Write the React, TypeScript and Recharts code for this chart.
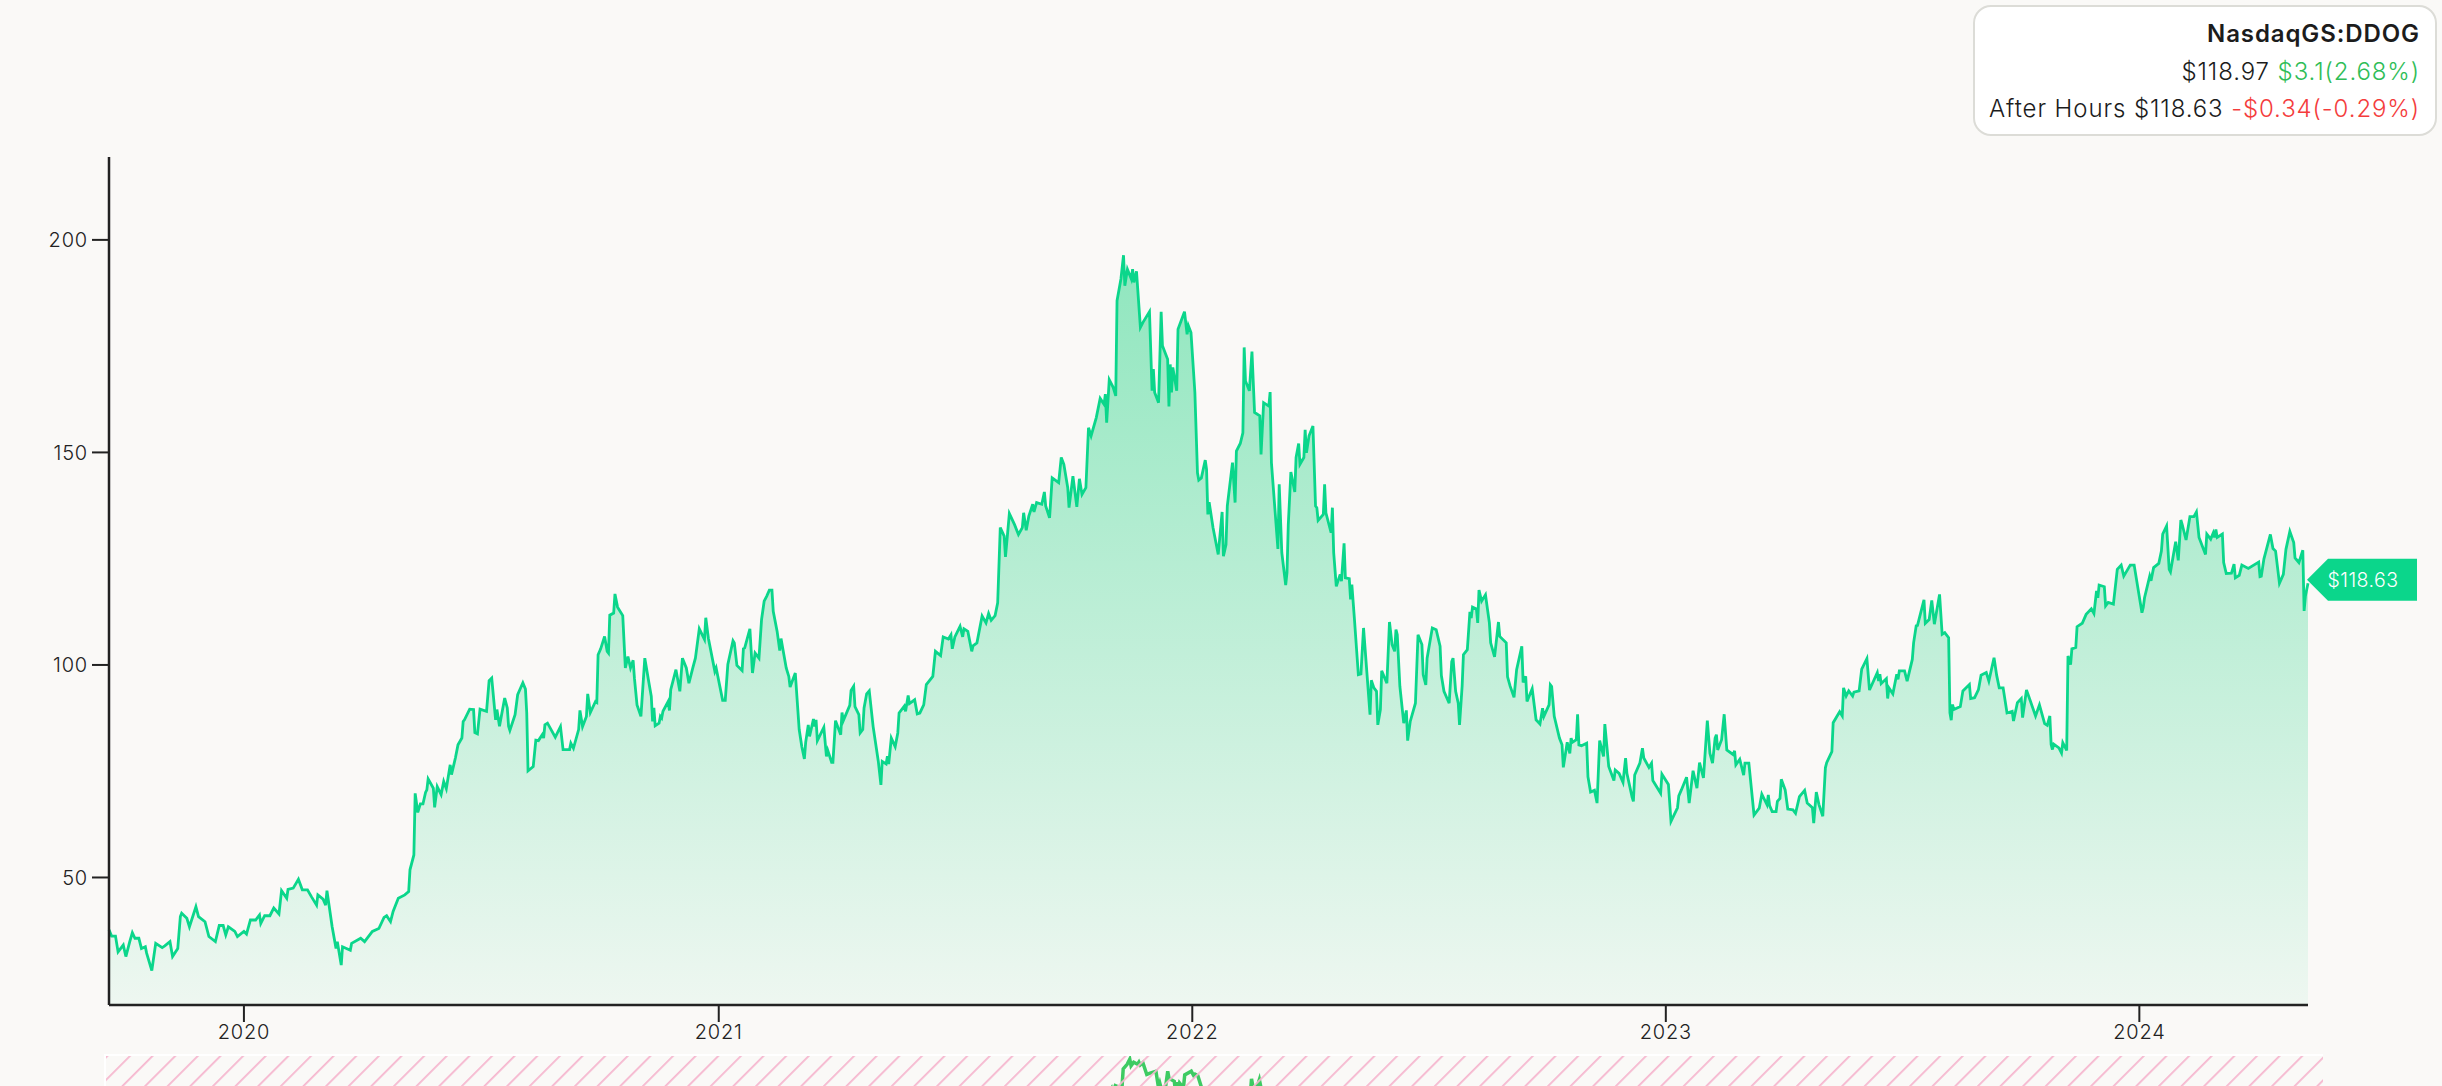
import { Area, AreaChart, Line, LineChart, ReferenceDot, XAxis, YAxis } from "recharts";

const WIDTH = 2442;
const HEIGHT = 1086;
const DAY_MS = 86400000;
const LISTING_DATE = Date.UTC(2019, 8, 19);
const LAST_DAY = 1695;

// days since listing and closing price
const days2019 = [
  0, 2, 5, 7, 11, 13, 16, 18, 20, 23,
  25, 28, 29, 33, 36, 41, 43, 47, 49, 53,
  55, 56, 60, 62, 67, 69, 74, 77, 82, 85,
  88, 90, 92, 97, 99,
];
const closes2019 = [
  37.7, 36.2, 36.2, 32.5, 34.1, 31.4, 34.9, 37.0, 35.7, 35.7,
  33.3, 33.7, 32.2, 28.1, 34.5, 33.5, 33.9, 34.9, 31.4, 33.3,
  40.8, 41.6, 40.4, 38.4, 43.1, 40.8, 39.6, 36.1, 34.9, 38.7,
  38.7, 36.5, 38.4, 37.3, 36.1,
];

const days2020 = [
  104, 106, 109, 113, 116, 117, 120, 124, 127, 131,
  133, 137, 138, 142, 146, 149, 153, 156, 160, 161,
  165, 167, 168, 172, 175, 176, 179, 180, 183, 186,
  187, 194, 197, 203, 208, 212, 214, 217, 219, 223,
  228, 231, 232, 235, 236, 238, 240, 242, 244, 245,
  246, 250, 251, 253, 256, 258, 260, 263, 264, 267,
  269, 272, 273, 274, 278, 281, 282, 284, 286, 291,
  293, 295, 298, 299, 301, 305, 307, 308, 309, 313,
  315, 319, 321, 322, 323, 327, 329, 331, 334, 335,
  336, 338, 344, 348, 350, 355, 356, 358, 362, 363,
  365, 368, 369, 371, 375, 376, 377, 379, 382, 384,
  385, 386, 389, 390, 392, 396, 398, 400, 402, 404,
  405, 407, 410, 413, 416, 418, 419, 420, 421, 424,
  425, 426, 427, 431, 432, 433, 437, 440, 442, 445,
  447, 450, 452, 455, 459, 460, 462, 467, 468,
];
const closes2020 = [
  37.3, 36.7, 40.0, 40.0, 41.2, 39.2, 41.0, 41.0, 42.8, 41.4,
  46.9, 45.1, 47.2, 47.5, 49.6, 47.1, 47.1, 45.5, 43.5, 45.9,
  44.9, 43.5, 46.9, 38.4, 33.3, 34.9, 29.4, 33.7, 33.3, 32.9,
  34.5, 35.7, 34.9, 37.3, 38.0, 40.6, 41.0, 39.6, 42.0, 45.1,
  45.9, 46.7, 51.8, 55.3, 69.8, 65.3, 67.3, 67.3, 70.0, 70.6,
  73.2, 71.0, 66.5, 71.4, 69.5, 72.6, 70.9, 76.5, 74.2, 78.1,
  81.2, 82.8, 86.7, 87.1, 89.6, 89.5, 84.1, 83.8, 89.6, 89.1,
  96.3, 96.9, 87.1, 89.5, 85.6, 92.2, 89.9, 85.6, 84.6, 88.3,
  93.0, 95.8, 94.3, 88.7, 75.1, 76.1, 82.3, 82.2, 83.6, 82.8,
  85.9, 86.3, 83.0, 85.5, 80.1, 80.1, 81.6, 80.4, 84.8, 89.3,
  85.5, 87.9, 93.2, 88.8, 91.4, 91.2, 102.4, 103.8, 106.7, 103.2,
  102.8, 111.7, 112.2, 116.7, 113.6, 111.6, 99.3, 102.0, 99.3, 101.1,
  96.9, 90.6, 87.9, 101.6, 96.1, 92.6, 86.7, 89.9, 85.7, 86.3,
  87.9, 87.5, 89.1, 91.4, 89.3, 94.2, 98.9, 93.8, 101.6, 99.3,
  95.7, 99.3, 101.6, 108.5, 106.0, 111.1, 106.3, 98.5, 99.3,
];

const days2021 = [
  473, 475, 477, 481, 482, 484, 488, 489, 490, 494,
  496, 498, 501, 503, 505, 507, 509, 511, 512, 515,
  517, 518, 522, 524, 525, 529, 532, 534, 536, 537,
  539, 540, 543, 544, 545, 546, 551, 553, 554, 557,
  558, 560, 564, 565, 566, 571, 572, 574, 575, 578,
  579, 581, 582, 584, 586, 589, 593, 595, 596, 599,
  600, 601, 603, 606, 608, 609, 613, 614, 616, 617,
  621, 623, 625, 628, 630, 635, 637, 641, 643, 647,
  649, 650, 652, 656, 658, 659, 662, 665, 666, 669,
  673, 676, 678, 680, 683, 685, 687, 690, 691, 694,
  698, 701, 704, 705, 707, 709, 712, 713, 715, 719,
  721, 722, 725, 727, 732, 734, 736, 739, 740, 743,
  746, 748, 750, 753, 755, 757, 761, 764, 767, 768,
  769, 771, 774, 776, 777, 780, 782, 783, 785, 788,
  789, 790, 792, 795, 797, 802, 804, 805, 806, 809,
  811, 812, 816, 817, 818, 819, 820, 823, 824, 829,
  831, 832, 834,
];
const closes2021 = [
  91.7, 91.7, 100.1, 105.7, 105.2, 99.9, 98.7, 103.8, 104.0, 108.5,
  98.1, 102.8, 101.6, 110.7, 115.0, 116.2, 117.6, 117.6, 112.6, 107.9,
  103.4, 106.2, 99.3, 97.3, 94.8, 98.1, 84.8, 80.8, 77.9, 81.8,
  85.9, 83.2, 87.3, 85.5, 87.1, 82.2, 85.3, 78.5, 79.9, 77.1,
  77.1, 86.9, 83.6, 88.8, 86.9, 90.5, 94.0, 95.0, 90.2, 88.3,
  84.0, 84.8, 89.9, 93.2, 93.9, 85.5, 77.3, 71.8, 77.3, 76.7,
  78.5, 76.7, 82.8, 80.8, 84.0, 88.7, 90.3, 89.1, 92.8, 90.9,
  91.8, 88.5, 88.7, 90.6, 95.4, 97.3, 103.2, 102.2, 106.6, 106.1,
  107.1, 103.8, 106.6, 109.1, 106.6, 108.5, 107.9, 103.2, 104.5, 105.2,
  111.5, 109.9, 112.1, 110.5, 111.6, 114.6, 132.3, 130.3, 125.4, 135.6,
  133.0, 130.7, 132.3, 135.8, 131.7, 135.0, 137.8, 136.0, 138.2, 137.8,
  140.7, 137.4, 134.6, 144.0, 142.9, 148.8, 147.2, 141.7, 137.0, 144.4,
  137.2, 143.8, 140.1, 141.7, 155.8, 153.9, 158.2, 162.7, 161.3, 163.7,
  157.0, 167.1, 165.3, 163.3, 185.7, 190.8, 196.4, 189.2, 193.1, 190.8,
  193.1, 190.0, 192.6, 179.4, 180.6, 183.1, 164.5, 169.6, 164.1, 161.7,
  183.1, 175.1, 171.9, 160.8, 170.7, 164.1, 170.0, 164.5, 179.0, 183.1,
  177.8, 179.8, 178.2,
];

const days2022 = [
  837, 839, 840, 842, 845, 846, 847, 848, 851, 855,
  858, 859, 861, 862, 866, 868, 869, 872, 874, 875,
  876, 879, 881, 883, 887, 888, 890, 894, 895, 896,
  901, 902, 904, 907, 908, 909, 911, 914, 915, 917,
  918, 921, 922, 923, 925, 928, 930, 931, 932, 936,
  937, 938, 942, 943, 944, 946, 949, 950, 952, 953,
  956, 957, 958, 960, 963, 965, 967, 970, 972, 973,
  975, 977, 978, 980, 981, 985, 987, 989, 991, 992,
  993, 995, 998, 1000, 1001, 1003, 1007, 1009, 1012, 1013,
  1015, 1016, 1020, 1023, 1026, 1027, 1029, 1033, 1035, 1036,
  1038, 1040, 1041, 1043, 1044, 1047, 1049, 1050, 1051, 1054,
  1055, 1056, 1058, 1061, 1064, 1065, 1068, 1071, 1072, 1077,
  1078, 1080, 1083, 1085, 1089, 1090, 1092, 1093, 1097, 1100,
  1103, 1105, 1106, 1110, 1111, 1112, 1114, 1118, 1120, 1121,
  1124, 1126, 1127, 1128, 1131, 1132, 1133, 1135, 1139, 1140,
  1142, 1145, 1147, 1149, 1152, 1153, 1156, 1160, 1161, 1164,
  1167, 1169, 1170, 1174, 1175, 1176, 1180, 1182, 1183, 1187,
  1189, 1190, 1196, 1197,
];
const closes2022 = [
  164.1, 145.2, 143.5, 144.0, 148.2, 146.0, 135.4, 138.3, 132.3, 126.0,
  136.0, 125.6, 128.3, 137.4, 147.6, 138.2, 150.3, 152.1, 154.6, 174.7,
  166.8, 164.5, 173.7, 159.4, 158.6, 149.5, 161.7, 160.9, 164.2, 147.6,
  127.3, 142.5, 126.4, 118.8, 121.7, 133.0, 145.4, 140.7, 148.8, 152.1,
  147.2, 148.8, 155.3, 149.9, 153.9, 156.2, 137.4, 137.0, 134.0, 135.4,
  142.5, 135.8, 131.1, 137.0, 126.4, 118.5, 121.3, 119.7, 128.6, 120.5,
  120.3, 115.4, 118.9, 110.7, 97.7, 97.9, 108.7, 96.5, 88.3, 96.4,
  94.6, 93.8, 85.9, 89.5, 98.6, 95.7, 110.1, 104.8, 103.2, 108.3,
  107.1, 95.0, 86.3, 89.3, 82.2, 86.7, 91.0, 107.1, 104.8, 97.7,
  95.3, 101.6, 108.7, 108.3, 104.4, 97.5, 93.8, 91.0, 100.8, 101.6,
  93.8, 91.0, 85.9, 95.0, 102.4, 103.6, 112.5, 111.0, 113.6, 113.2,
  109.9, 117.6, 115.0, 116.5, 109.9, 105.2, 101.9, 110.1, 106.7, 105.2,
  97.2, 95.0, 92.4, 98.9, 104.4, 95.9, 97.3, 91.4, 94.4, 87.1,
  86.1, 89.8, 87.9, 90.6, 95.3, 94.9, 87.9, 82.8, 81.2, 75.9,
  81.8, 79.2, 82.8, 81.8, 82.4, 88.4, 81.2, 81.0, 81.6, 73.7,
  70.1, 70.5, 67.5, 82.2, 78.5, 86.1, 76.1, 72.8, 75.3, 74.5,
  72.4, 78.1, 74.5, 68.9, 67.9, 74.1, 76.9, 80.4, 78.1, 75.9,
  76.9, 72.8, 69.8, 74.3,
];

const days2023 = [
  1202, 1204, 1209, 1210, 1212, 1216, 1218, 1221, 1224, 1226,
  1229, 1232, 1234, 1236, 1238, 1239, 1240, 1243, 1245, 1247,
  1252, 1253, 1254, 1257, 1260, 1261, 1264, 1268, 1272, 1274,
  1278, 1279, 1280, 1282, 1285, 1286, 1288, 1289, 1292, 1294,
  1298, 1300, 1303, 1307, 1309, 1313, 1314, 1316, 1318, 1321,
  1323, 1324, 1328, 1329, 1334, 1336, 1337, 1339, 1341, 1344,
  1345, 1349, 1351, 1355, 1357, 1363, 1364, 1365, 1366, 1370,
  1371, 1372, 1375, 1378, 1379, 1380, 1384, 1386, 1390, 1391,
  1393, 1394, 1399, 1400, 1403, 1405, 1407, 1411, 1413, 1415,
  1418, 1419, 1420, 1421, 1422, 1427, 1429, 1434, 1435, 1438,
  1441, 1443, 1447, 1449, 1453, 1455, 1457, 1460, 1463, 1467,
  1468, 1471, 1474, 1475, 1478, 1481, 1485, 1488, 1492, 1494,
  1496, 1497, 1498, 1499, 1503, 1505, 1506, 1509, 1510, 1512,
  1513, 1516, 1517, 1521, 1524, 1528, 1530, 1532, 1533, 1534,
  1538, 1539, 1541, 1545, 1548, 1551, 1553, 1558, 1561,
];
const closes2023 = [
  71.9, 63.2, 66.4, 69.2, 70.6, 73.6, 67.5, 75.1, 71.0, 77.0,
  73.4, 86.9, 79.2, 76.9, 82.8, 83.6, 80.0, 82.4, 88.4, 80.0,
  78.9, 79.8, 76.5, 77.8, 74.1, 76.9, 76.9, 64.7, 66.3, 69.6,
  67.1, 69.4, 66.9, 65.5, 65.5, 67.9, 68.6, 73.1, 70.6, 66.1,
  65.9, 65.1, 69.0, 70.5, 67.5, 66.4, 62.8, 70.1, 67.2, 64.4,
  75.8, 77.0, 79.6, 86.4, 89.0, 88.0, 94.6, 92.7, 93.9, 92.7,
  93.6, 93.9, 99.0, 101.5, 94.1, 98.2, 96.2, 97.8, 95.6, 96.8,
  92.1, 94.6, 93.2, 97.8, 96.6, 98.6, 98.6, 96.2, 101.3, 105.2,
  109.2, 109.3, 115.3, 109.8, 110.7, 115.2, 109.6, 116.6, 107.2, 107.6,
  106.4, 88.7, 87.0, 90.7, 89.5, 90.2, 93.9, 95.4, 92.1, 92.3,
  94.2, 97.6, 98.2, 96.2, 101.7, 97.6, 94.6, 94.6, 88.7, 89.1,
  86.8, 91.1, 92.1, 87.6, 94.1, 91.5, 88.0, 90.6, 86.2, 85.8,
  88.0, 81.3, 80.1, 81.4, 80.5, 79.3, 81.7, 79.9, 102.1, 100.1,
  103.8, 104.1, 109.0, 109.8, 111.9, 113.2, 112.1, 117.4, 115.8, 118.8,
  118.4, 113.9, 114.7, 114.3, 122.5, 123.5, 120.9, 123.5, 123.5,
];

const days2024 = [
  1567, 1568, 1569, 1573, 1574, 1576, 1580, 1582, 1583, 1586,
  1588, 1589, 1593, 1595, 1597, 1598, 1601, 1604, 1607, 1609,
  1611, 1616, 1617, 1620, 1622, 1623, 1624, 1625, 1629, 1630,
  1632, 1636, 1638, 1639, 1642, 1644, 1649, 1657, 1658, 1659,
  1661, 1666, 1668, 1670, 1673, 1676, 1678, 1681, 1684, 1685,
  1688, 1691, 1692, 1693, 1695,
];
const closes2024 = [
  112.3, 113.5, 115.8, 120.9, 119.8, 122.9, 123.9, 126.8, 130.8, 132.7,
  122.5, 121.9, 129.0, 124.6, 134.1, 133.1, 129.4, 134.9, 134.9, 136.0,
  130.0, 126.0, 130.8, 129.6, 131.1, 130.0, 131.9, 130.0, 130.8, 124.1,
  121.5, 121.6, 123.7, 120.5, 121.1, 123.5, 122.7, 124.2, 120.8, 120.9,
  124.9, 130.7, 127.4, 126.8, 119.2, 121.3, 127.2, 131.4, 128.8, 125.2,
  124.1, 127.0, 112.7, 116.2, 119.2,
];

const yAxisTicks = [50, 100, 150, 200];
const tickYears = [2020, 2021, 2022, 2023, 2024];
const afterHoursPrice = 118.63;

const allDays = [...days2019, ...days2020, ...days2021, ...days2022, ...days2023, ...days2024];
const allCloses = [...closes2019, ...closes2020, ...closes2021, ...closes2022, ...closes2023, ...closes2024];
const chartData = allDays.map((day, i) => ({
  time: LISTING_DATE + day * DAY_MS,
  close: allCloses[i],
}));
const timeDomain = [LISTING_DATE, LISTING_DATE + LAST_DAY * DAY_MS];
const FONT = "Inter, sans-serif";
const tickStyle = { fill: "#222", fontSize: 20, fontFamily: FONT, fontWeight: 300, letterSpacing: 0.8 };

function PriceTag({ cx, cy }: any) {
  // tag sits a little above the price it points at
  const y = cy - 6;
  const x = cx - 1;
  return (
    <g>
      <polygon
        points={`${x},${y} ${x + 21},${y - 21} ${x + 110},${y - 21} ${x + 110},${y + 21} ${x + 21},${y + 21}`}
        fill="#0bd68b"
      />
      <text x={x + 56} y={y + 7} textAnchor="middle" fill="#fff" fontSize={19.5} letterSpacing={0.5} fontFamily={FONT} fontWeight={300}>
        ${afterHoursPrice}
      </text>
    </g>
  );
}

export default function App() {
  return (
    <div style={{ position: "absolute", left: 0, top: 0, width: WIDTH, height: HEIGHT, background: "#faf9f7", overflow: "hidden", fontFamily: FONT }}>
      <AreaChart
        width={WIDTH}
        height={HEIGHT}
        data={chartData}
        margin={{ top: 157, right: 134, bottom: 0, left: 0 }}
      >
        <defs>
          <linearGradient id="priceFill" x1="0" y1="0" x2="0" y2="1">
            <stop offset="0%" stopColor="#0ccf78" stopOpacity={0.45} />
            <stop offset="100%" stopColor="#0ccf78" stopOpacity={0.05} />
          </linearGradient>
        </defs>
        <XAxis
          dataKey="time"
          type="number"
          domain={timeDomain}
          ticks={tickYears.map((y) => Date.UTC(y, 0, 1))}
          tickFormatter={(t: number) => String(new Date(t).getUTCFullYear())}
          height={81}
          tickSize={17}
          tickMargin={3}
          interval={0}
          axisLine={{ stroke: "#222", strokeWidth: 2.5 }}
          tickLine={{ stroke: "#222", strokeWidth: 2 }}
          tick={tickStyle}
        />
        <YAxis
          type="number"
          domain={[20, 219.5]}
          ticks={yAxisTicks}
          width={109}
          tickSize={17}
          tickMargin={4}
          interval={0}
          axisLine={{ stroke: "#222", strokeWidth: 2.5 }}
          tickLine={{ stroke: "#222", strokeWidth: 2 }}
          tick={tickStyle}
        />
        <Area
          type="linear"
          dataKey="close"
          stroke="#0bd68b"
          strokeWidth={2.8}
          fill="url(#priceFill)"
          fillOpacity={1}
          dot={false}
          isAnimationActive={false}
        />
        <ReferenceDot
          x={timeDomain[1]}
          y={afterHoursPrice}
          ifOverflow="visible"
          shape={(props: any) => <PriceTag {...props} />}
        />
      </AreaChart>

      <div style={{ position: "absolute", left: 1973, top: 5, width: 464, height: 131, boxSizing: "border-box", background: "#fff", border: "2px solid #dcdcd7", borderRadius: 18, textAlign: "right", fontSize: 24, letterSpacing: 0.9, lineHeight: "37.5px", color: "#1c1c1c", fontWeight: 300, paddingTop: 8, whiteSpace: "nowrap" }}>
        <div style={{ paddingRight: 15, fontWeight: 600 }}>NasdaqGS:DDOG</div>
        <div style={{ paddingRight: 15 }}>
          $118.97 <span style={{ color: "#2fbd57" }}>$3.1(2.68%)</span>
        </div>
        <div style={{ paddingRight: 15 }}>
          After Hours $118.63 <span style={{ color: "#f43c3c" }}>-$0.34(-0.29%)</span>
        </div>
      </div>

      <div style={{ position: "absolute", left: 104, top: 1054, width: 2219, height: 32, overflow: "hidden", borderLeft: "2px solid #fff", borderTop: "2px solid #fff", boxSizing: "border-box" }}>
        <LineChart width={2219} height={162} data={chartData} margin={{ top: 0, right: 0, bottom: 0, left: 0 }}>
          <XAxis dataKey="time" type="number" domain={timeDomain} hide />
          <YAxis type="number" domain={[20, 200]} hide />
          <Line type="linear" dataKey="close" stroke="#3dcb62" strokeWidth={3.5} dot={false} isAnimationActive={false} />
        </LineChart>
        <svg width={2219} height={32} style={{ position: "absolute", left: 0, top: 0 }}>
          <defs>
            <pattern id="brushHatch" width={16} height={16} patternUnits="userSpaceOnUse" patternTransform="rotate(45)">
              <rect x={0} y={0} width={1.8} height={16} fill="#f6b7cf" />
            </pattern>
          </defs>
          <rect x={0} y={0} width={2219} height={32} fill="url(#brushHatch)" />
        </svg>
      </div>
    </div>
  );
}
